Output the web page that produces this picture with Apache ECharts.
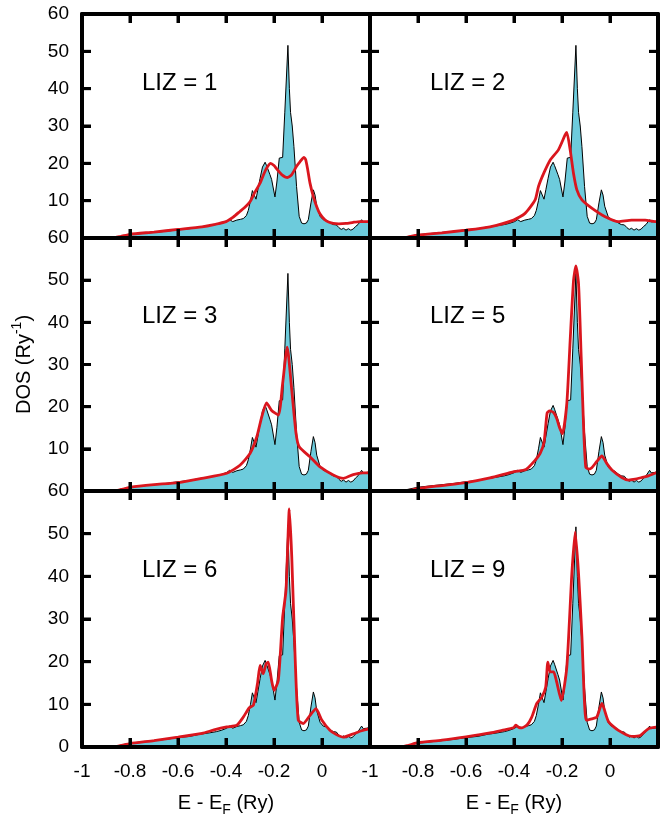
<!DOCTYPE html>
<html><head><meta charset="utf-8">
<script src="https://cdn.jsdelivr.net/npm/echarts@6/dist/echarts.min.js"></script>
<style>html,body{margin:0;padding:0;background:#fff}#chart{width:669px;height:821px}</style>
</head><body><div id="chart"></div>
<script>
// ---------- DATA ----------
const panelLabels = ['LIZ = 1', 'LIZ = 2', 'LIZ = 3', 'LIZ = 5', 'LIZ = 6', 'LIZ = 9'];
const xTickValues = [-1, -0.8, -0.6, -0.4, -0.2, 0, 0.2];
const xTickLabels = ['-1', '-0.8', '-0.6', '-0.4', '-0.2', '0', ''];
const yTickValues = [0, 10, 20, 30, 40, 50, 60];

// reference DOS [E - EF (Ry), DOS (1/Ry)] - cyan filled curve
const refDOS = [[-1,0],[-0.9,0],[-0.87,0.05],[-0.85,0.3],[-0.8,0.9],[-0.75,1.2],[-0.7,1.5],[-0.65,1.8],[-0.6,2.2],[-0.55,2.5],[-0.508,3.0],[-0.47,3.3],[-0.44,3.6],[-0.42,3.9],[-0.397,4.4],[-0.385,4.9],[-0.372,4.4],[-0.355,4.8],[-0.34,5.0],[-0.328,5.2],[-0.315,6.0],[-0.307,7.4],[-0.298,10],[-0.29,12.7],[-0.283,12.3],[-0.275,10.4],[-0.267,13],[-0.258,16],[-0.248,19],[-0.237,20.3],[-0.231,19.4],[-0.224,19.6],[-0.217,17],[-0.21,15.7],[-0.196,11],[-0.188,15],[-0.178,21.4],[-0.17,21.0],[-0.164,21.6],[-0.155,33.7],[-0.142,51.6],[-0.136,40],[-0.131,33.6],[-0.124,30],[-0.117,24.5],[-0.106,13.8],[-0.095,5.8],[-0.085,4.0],[-0.075,3.8],[-0.065,4.0],[-0.057,4.9],[-0.046,9.4],[-0.036,12.9],[-0.029,11.5],[-0.022,8.5],[-0.008,5.8],[0.005,4.9],[0.02,4.7],[0.035,4.0],[0.047,3.6],[0.06,3.5],[0.07,2.8],[0.08,2.3],[0.09,2.6],[0.1,2.1],[0.11,2.5],[0.12,2.1],[0.13,2.4],[0.14,3.1],[0.15,3.6],[0.158,4.0],[0.165,4.9],[0.172,4.3],[0.185,4.4],[0.2,4.6]];

// LIZ approximations (red curves)
const liz1 = [[-1,0],[-0.875,0],[-0.84,0.4],[-0.8,1.0],[-0.7,1.6],[-0.6,2.3],[-0.5,3.0],[-0.45,3.6],[-0.4,4.4],[-0.37,5.6],[-0.342,7.1],[-0.32,8.3],[-0.3,9.7],[-0.28,12.2],[-0.258,14.7],[-0.242,17.2],[-0.231,18.7],[-0.214,20.0],[-0.2,19.4],[-0.189,18.5],[-0.168,17.0],[-0.144,16.2],[-0.126,17.0],[-0.106,19.2],[-0.092,20.4],[-0.075,21.6],[-0.068,21.0],[-0.06,18.5],[-0.05,14.7],[-0.036,11.1],[-0.022,8.4],[-0.008,6.4],[0.013,4.8],[0.03,4.2],[0.047,3.9],[0.07,3.8],[0.1,3.9],[0.13,4.2],[0.157,4.4],[0.18,4.4],[0.2,4.4]];
const liz2 = [[-1,0],[-0.872,0],[-0.84,0.3],[-0.8,0.8],[-0.7,1.4],[-0.6,2.1],[-0.5,3.0],[-0.402,4.8],[-0.354,6.6],[-0.312,10.2],[-0.298,13.8],[-0.275,17.5],[-0.249,20.9],[-0.215,23.6],[-0.187,27.6],[-0.18,28.3],[-0.166,23.6],[-0.152,17.3],[-0.138,12.9],[-0.117,10.2],[-0.076,8.0],[-0.02,5.7],[0.035,4.4],[0.09,4.8],[0.147,4.8],[0.188,4.4],[0.2,4.4]];
const liz3 = [[-1,0],[-0.87,0],[-0.84,0.3],[-0.796,0.9],[-0.7,1.5],[-0.6,2.0],[-0.5,3.0],[-0.397,4.2],[-0.342,6.1],[-0.3,8.9],[-0.272,12.8],[-0.251,17.6],[-0.231,20.9],[-0.21,19.1],[-0.182,18.0],[-0.164,25.5],[-0.145,34.1],[-0.126,23.9],[-0.108,13.6],[-0.095,10.5],[-0.05,8.1],[-0.008,5.7],[0.047,3.8],[0.089,3.0],[0.13,3.9],[0.17,4.3],[0.2,4.3]];
const liz5 = [[-1,0],[-0.85,0],[-0.83,0.2],[-0.8,0.6],[-0.7,1.3],[-0.6,2.0],[-0.5,3.1],[-0.4,4.6],[-0.35,5.1],[-0.31,7.4],[-0.291,8.9],[-0.275,11.5],[-0.262,18.5],[-0.252,19.0],[-0.235,18.6],[-0.222,17.2],[-0.21,15],[-0.198,13.6],[-0.18,20.7],[-0.166,35.7],[-0.152,49.9],[-0.142,53.4],[-0.131,49.1],[-0.12,31.7],[-0.11,15.2],[-0.101,5.7],[-0.088,5.2],[-0.076,5.5],[-0.055,7.0],[-0.034,8.3],[-0.013,6.5],[0.008,5.0],[0.049,3.2],[0.077,2.6],[0.105,2.8],[0.132,3.2],[0.16,3.6],[0.188,4.2],[0.2,4.4]];
const liz6 = [[-1,0],[-0.87,0],[-0.84,0.3],[-0.8,0.8],[-0.7,1.5],[-0.6,2.3],[-0.5,3.2],[-0.45,4.0],[-0.397,4.7],[-0.355,5.1],[-0.328,7.0],[-0.303,9.2],[-0.286,9.8],[-0.269,14.8],[-0.258,19.1],[-0.245,17.2],[-0.233,19.5],[-0.224,19.9],[-0.21,15.6],[-0.2,13.3],[-0.182,15.6],[-0.164,30.4],[-0.15,36.7],[-0.136,55.8],[-0.126,44.5],[-0.112,21.1],[-0.099,6.3],[-0.078,5.5],[-0.05,7.4],[-0.025,9.0],[-0.001,6.3],[0.033,3.9],[0.06,2.9],[0.089,2.3],[0.131,3.1],[0.165,3.8],[0.2,4.3]];
const liz9 = [[-1,0],[-0.87,0],[-0.84,0.4],[-0.8,1.0],[-0.7,1.6],[-0.6,2.4],[-0.5,3.3],[-0.45,3.9],[-0.402,4.5],[-0.393,5.1],[-0.38,4.6],[-0.367,4.5],[-0.345,5.2],[-0.326,7.0],[-0.305,10.2],[-0.284,11.7],[-0.268,14],[-0.259,19.9],[-0.249,17.6],[-0.235,17.6],[-0.222,15.2],[-0.203,10.9],[-0.18,18.7],[-0.159,40.6],[-0.145,50.4],[-0.131,40.6],[-0.117,25.8],[-0.099,6.3],[-0.076,6.6],[-0.055,7.0],[-0.034,10.2],[-0.006,5.9],[0.035,3.9],[0.091,2.5],[0.126,2.7],[0.16,4.3],[0.2,4.7]];
const lizCurves = [liz1, liz2, liz3, liz5, liz6, liz9];

// ---------- CHART ----------
const FONT = '"Liberation Sans", Arial, Helvetica, sans-serif';
const CYAN = '#6DCBDC';
const RED = '#DA161E';
const rowTop = [14, 238, 491];
const rowH = [224, 253, 256];
const colLeft = [82, 370];
const colW = 288;
const TICK_LEN = 9;

const grids = [], xAxes = [], yAxes = [], series = [];
function lineAx() { return {show: true, onZero: false, lineStyle: {color: '#000', width: 4}}; }
function tickAx() { return {show: true, inside: true, length: TICK_LEN, lineStyle: {color: '#000', width: 3}}; }

// tick marks on all four sides, positioned through the axes' scales
const tickItems = xTickValues.map(v => [v, 0, 0]).concat(yTickValues.map(v => [-1, v, 1]));
function renderTicks(params, api) {
  const cs = params.coordSys;
  const kind = api.value(2);
  const st = {stroke: '#000', lineWidth: 3, fill: null};
  if (kind === 0) {
    const px = api.coord([api.value(0), 0])[0];
    return {type: 'group', children: [
      {type: 'line', shape: {x1: px, y1: cs.y + cs.height, x2: px, y2: cs.y + cs.height - TICK_LEN}, style: st},
      {type: 'line', shape: {x1: px, y1: cs.y, x2: px, y2: cs.y + TICK_LEN}, style: st}
    ]};
  }
  const py = api.coord([-1, api.value(1)])[1];
  return {type: 'group', children: [
    {type: 'line', shape: {x1: cs.x, y1: py, x2: cs.x + TICK_LEN, y2: py}, style: st},
    {type: 'line', shape: {x1: cs.x + cs.width, y1: py, x2: cs.x + cs.width - TICK_LEN, y2: py}, style: st}
  ]};
}

for (let i = 0; i < 6; i++) {
  const r = Math.floor(i / 2), c = i % 2;
  grids.push({left: colLeft[c], top: rowTop[r], width: colW, height: rowH[r], containLabel: false});
  const mkX = (pos, withLabel) => ({
    type: 'value', gridIndex: i, position: pos, min: -1, max: 0.2, interval: 0.2, z: 10,
    axisLine: lineAx(), axisTick: tickAx(), splitLine: {show: false},
    axisLabel: {show: withLabel, color: '#000', fontSize: 19, fontFamily: FONT, margin: 15,
      formatter: v => { const k = xTickValues.findIndex(t => Math.abs(t - v) < 1e-6); return k >= 0 ? xTickLabels[k] : ''; }}
  });
  const bottomX = mkX('bottom', r === 2);
  if (r === 2) {
    Object.assign(bottomX, {name: '{n|E - E}{s|F}{n| (Ry)}', nameLocation: 'middle', nameGap: 42,
      nameTextStyle: {color: '#000', fontFamily: FONT, fontSize: 20,
        rich: {n: {fontSize: 20, fontFamily: FONT, color: '#000', lineHeight: 28, verticalAlign: 'middle'},
               s: {fontSize: 14, fontFamily: FONT, color: '#000', lineHeight: 28, verticalAlign: 'bottom', padding: [8, 0, 0, 0]}}}});
  }
  const topX = mkX('top', false);
  xAxes.push(bottomX, topX);

  const mkY = (pos, withLabel) => ({
    type: 'value', gridIndex: i, position: pos, min: 0, max: 60, interval: 10, z: 10,
    axisLine: lineAx(), axisTick: tickAx(), splitLine: {show: false},
    axisLabel: {show: withLabel, color: '#000', fontSize: 19, fontFamily: FONT, margin: 13,
      formatter: v => (r < 2 && v === 0) ? '' : String(v)}
  });
  const leftY = mkY('left', c === 0);
  if (i === 2) {
    Object.assign(leftY, {name: '{n|DOS (Ry}{p|-1}{n|)}', nameLocation: 'middle', nameGap: 44, nameRotate: 90,
      nameTextStyle: {color: '#000', fontFamily: FONT, fontSize: 20,
        rich: {n: {fontSize: 20, fontFamily: FONT, color: '#000', lineHeight: 28, verticalAlign: 'middle'},
               p: {fontSize: 14, fontFamily: FONT, color: '#000', lineHeight: 28, verticalAlign: 'top', padding: [0, 0, 6, 0]}}}});
  }
  const rightY = mkY('right', false);
  yAxes.push(leftY, rightY);

  series.push({
    type: 'line', xAxisIndex: 2 * i, yAxisIndex: 2 * i, data: refDOS,
    symbol: 'none', smooth: false, z: 2,
    lineStyle: {color: '#000', width: 1},
    areaStyle: {color: CYAN, opacity: 1}
  });
  series.push({
    type: 'line', xAxisIndex: 2 * i, yAxisIndex: 2 * i, data: lizCurves[i],
    symbol: 'none', smooth: 0.2, z: 3,
    lineStyle: {color: RED, width: 2.8},
    markPoint: {
      silent: true, symbol: 'circle', symbolSize: 0, itemStyle: {color: 'rgba(0,0,0,0)'},
      label: {show: true, position: 'right', distance: 0, color: '#000', fontSize: 24, fontFamily: FONT,
        formatter: panelLabels[i]},
      data: [{coord: [-0.75, 41.5], value: panelLabels[i]}]
    }
  });
  series.push({
    type: 'custom', xAxisIndex: 2 * i, yAxisIndex: 2 * i, data: tickItems,
    renderItem: renderTicks, clip: false, silent: true, z: 12
  });
}

const chart = echarts.init(document.getElementById('chart'), null, {renderer: 'canvas'});
chart.setOption({animation: false, backgroundColor: '#fff', grid: grids, xAxis: xAxes, yAxis: yAxes, series: series});
</script></body></html>
